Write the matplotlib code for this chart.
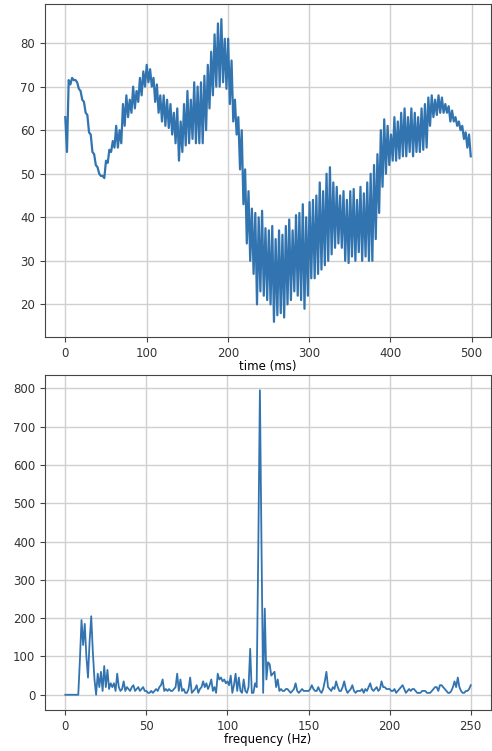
import numpy as np
import matplotlib
matplotlib.use('Agg')
import matplotlib.pyplot as plt

# peak / trough of each oscillation in the time trace
sig_hi = [63, 71.5, 72, 71.5, 69.5, 67, 64, 59.5, 55, 52,
          50, 49.5, 53, 55.5, 57.5, 61, 60, 66, 68, 67,
          70, 69, 72, 73.5, 75, 74, 72, 70.5, 68, 68,
          67, 66, 64, 65, 62, 66, 69, 67, 71, 70,
          71, 72.5, 75, 78, 82, 84.5, 85.5, 81, 81, 76,
          67, 63, 60, 51, 46, 42, 41, 40, 41.5, 37.5,
          37, 38, 35, 37, 36, 38, 39.5, 37, 40.5, 41,
          43, 40, 43.5, 44, 45, 48, 46, 50, 51.5, 48,
          47, 45, 46, 44, 46, 46.5, 44, 47, 45.5, 48,
          50, 52, 54.5, 60, 62.5, 61, 59, 63, 62, 64,
          65, 63, 65, 64, 63, 65, 66, 67.5, 68, 67,
          68, 67.5, 66, 65.5, 64.5, 63, 62, 61, 59.5, 59]
sig_lo = [55, 70.5, 71.5, 71, 69, 66.5, 63.5, 59, 54.5, 51.5,
          49.5, 49, 52.5, 55, 56, 56, 57, 61, 63, 64,
          65, 66.5, 68, 70, 71, 70, 66.5, 64, 62, 61,
          60.5, 59, 57, 53, 55, 56.5, 57, 58, 57, 57,
          57, 60, 65, 68, 70, 70, 71, 69.5, 66, 62,
          59, 51, 43, 34, 30, 27, 20, 23, 22, 21,
          20, 16, 17.5, 18, 17, 20, 21, 23, 22, 21,
          19, 22, 26, 26, 27, 28, 29, 30, 31.5, 33,
          34, 33, 30, 29.5, 31, 30, 32, 30, 31, 30,
          30, 35, 41, 47, 50, 52, 53, 53, 53.5, 54,
          54, 55, 54, 55, 55, 55.5, 56, 61, 63, 63.5,
          64, 64, 64, 62, 62, 61, 60, 58, 56, 54]

# FFT magnitude, 1 Hz bins from 0 to 250 Hz
spec = [0, 0, 0, 0, 0, 0, 0, 0, 0, 90,
        195, 130, 185, 100, 45, 140, 205, 110, 40, 0,
        55, 20, 60, 10, 75, 20, 65, 15, 30, 20,
        30, 10, 55, 20, 10, 15, 35, 10, 20, 15,
        10, 20, 25, 10, 15, 20, 10, 15, 20, 10,
        10, 5, 5, 10, 5, 10, 15, 10, 20, 25,
        40, 10, 15, 10, 15, 10, 10, 15, 20, 55,
        10, 40, 10, 15, 5, 5, 15, 45, 5, 10,
        15, 25, 5, 15, 20, 35, 20, 30, 15, 25,
        40, 10, 20, 5, 55, 40, 45, 35, 40, 30,
        35, 25, 50, 5, 25, 55, 10, 45, 10, 5,
        40, 10, 5, 20, 120, 5, 5, 30, 20, 380,
        795, 380, 5, 225, 40, 85, 80, 50, 55, 60,
        20, 40, 10, 15, 10, 10, 15, 15, 10, 5,
        10, 15, 30, 10, 5, 10, 15, 10, 10, 10,
        10, 15, 25, 15, 10, 10, 20, 10, 5, 15,
        35, 60, 20, 15, 10, 20, 15, 35, 20, 10,
        10, 20, 35, 15, 5, 10, 15, 25, 10, 5,
        10, 10, 10, 15, 5, 15, 10, 20, 30, 15,
        10, 15, 20, 10, 15, 35, 20, 20, 15, 15,
        15, 10, 10, 15, 5, 10, 15, 20, 25, 15,
        5, 10, 15, 10, 15, 15, 10, 5, 5, 5,
        10, 10, 10, 5, 5, 5, 10, 15, 20, 20,
        10, 25, 25, 20, 15, 10, 5, 5, 10, 20,
        35, 20, 45, 20, 10, 5, 5, 10, 10, 15,
        25]

signal = np.ravel(np.column_stack([sig_hi, sig_lo]))
t = np.linspace(0, 499, len(signal))
freq = np.arange(len(spec))

col = '#3274b0'
plt.rcParams['font.size'] = 8.5

fig = plt.figure(figsize=(4.92, 7.51), dpi=100)
ax1 = fig.add_axes([0.0915, 0.5513, 0.9065, 0.4434])
ax2 = fig.add_axes([0.0915, 0.0546, 0.9065, 0.446])

ax1.plot(t, signal, color=col, lw=1.6)
ax1.set_xlabel('time (ms)', labelpad=0)
ax1.set_xticks([0, 100, 200, 300, 400, 500])
ax1.set_yticks([20, 30, 40, 50, 60, 70, 80])

ax2.plot(freq, spec, color=col, lw=1.3)
ax2.set_xlabel('frequency (Hz)', labelpad=0)
ax2.set_xticks([0, 50, 100, 150, 200, 250])
ax2.set_yticks(range(0, 801, 100))

for ax in (ax1, ax2):
    ax.grid(True, color='#d0d0d0', lw=1)
    ax.set_axisbelow(True)
    for s in ax.spines.values():
        s.set_color('#444444')
    ax.tick_params(colors='#444444', labelcolor='#333333')

plt.savefig('out.png', dpi=100)
plt.close()
